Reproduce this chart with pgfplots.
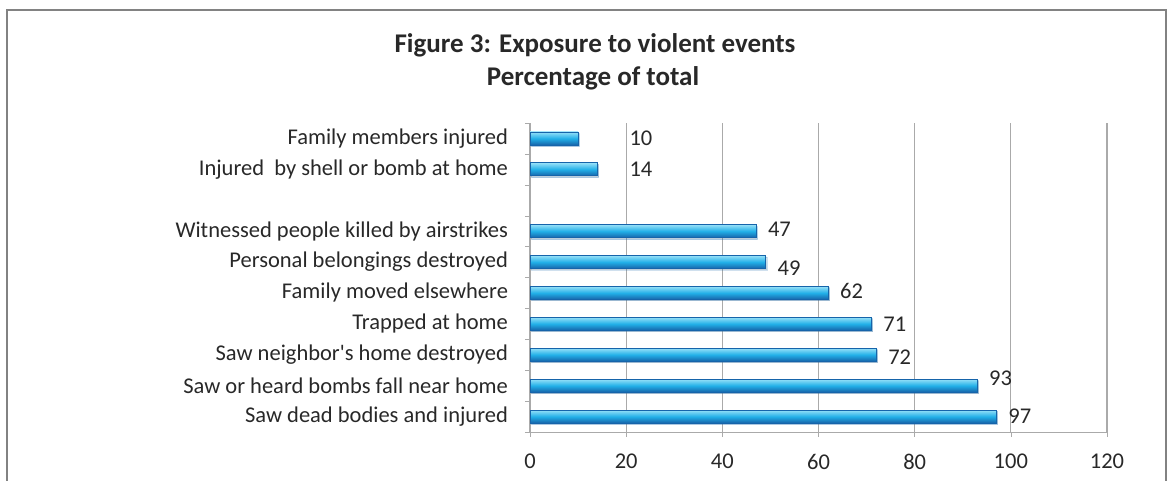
\documentclass[border=0pt]{standalone}
\usepackage{pgfplots}
\pgfplotsset{compat=1.18}
\usetikzlibrary{shadows}
\usepackage{fontspec}
\setmainfont{Carlito}
\definecolor{barmid}{RGB}{34,176,232}
\definecolor{bartop}{RGB}{150,224,248}
\definecolor{barbot}{RGB}{22,100,170}
\definecolor{txt}{RGB}{40,40,40}
\definecolor{gridc}{RGB}{170,170,170}
\definecolor{framec}{RGB}{130,130,130}
\pgfplotsset{
  cyl/.style={xbar, bar width=6.5pt, draw=barbot, line width=0.4pt,
    top color=bartop, bottom color=barbot, middle color=barmid,
    drop shadow={shadow xshift=0.7pt, shadow yshift=-0.7pt, opacity=0.2}},
  vlab/.style={nodes near coords, point meta=x,
    every node near coord/.append style={font=\fontsize{11.25}{12}\selectfont, text=txt, anchor=west, xshift=2.5pt, yshift=#1}},
  vlab/.default=0pt,
}
\begin{document}
\begin{tikzpicture}
\begin{scope}[x=0.5pt,y=0.5pt]
\useasboundingbox (0,0) rectangle (1168,481);
\draw[framec,line width=1.2pt] (7,0) -- (7,471) -- (1166,471) -- (1166,0);
\node[font=\fontsize{13.5}{15}\selectfont\bfseries,text=txt] at (595,436) {Figure 3: Exposure to violent events};
\node[font=\fontsize{13.5}{15}\selectfont\bfseries,text=txt] at (593,403) {Percentage of total};
\end{scope}
\begin{axis}[
  at={(265pt,24.5pt)}, anchor=south west,
  scale only axis, width=288.5pt, height=154.5pt,
  xmin=0, xmax=120, ymin=-0.5, ymax=9.5,
  xtick={0,20,...,120},
  ytick={0,1,2,3,4,5,6,8,9},
  yticklabels={Saw dead bodies and injured,Saw or heard bombs fall near home,Saw neighbor\textquotesingle s home destroyed,Trapped at home,Family moved elsewhere,Personal belongings destroyed,Witnessed people killed by airstrikes,Injured\ \ by shell or bomb at home,Family members injured},
  minor ytick={-0.5,0.5,...,9.5},
  axis x line*=bottom, axis y line*=left,
  axis line style={gridc, -},
  xmajorgrids, major grid style={gridc, line width=0.6pt},
  tick align=outside,
  major tick length=2.5pt, minor tick length=2.5pt,
  ytick style={draw=none},
  minor y tick style={draw=gridc},
  x tick style={draw=gridc},
  tick label style={font=\fontsize{11.25}{12}\selectfont, text=txt},
  /pgf/number format/assume math mode=true,
  yticklabel style={xshift=-5pt},
  xticklabel style={yshift=-5pt},
  clip=false,
]
\addplot[cyl, vlab] coordinates {(97,0)};
\addplot[cyl, vlab=3.5pt] coordinates {(93,1)};
\addplot[cyl, vlab=-1pt] coordinates {(72,2)};
\addplot[cyl, vlab] coordinates {(71,3)};
\addplot[cyl, vlab=1pt] coordinates {(62,4)};
\addplot[cyl, vlab=-3pt] coordinates {(49,5)};
\addplot[cyl, vlab=1pt] coordinates {(47,6)};
\addplot[cyl] coordinates {(14,8)};
\addplot[cyl] coordinates {(10,9)};
\addplot[only marks, mark=none, nodes near coords, point meta=explicit symbolic,
  every node near coord/.append style={font=\fontsize{11.25}{12}\selectfont, text=txt, anchor=west, inner sep=1.5pt}]
  coordinates {(20,8)[14] (20,9)[10]};
\end{axis}
\end{tikzpicture}
\end{document}
